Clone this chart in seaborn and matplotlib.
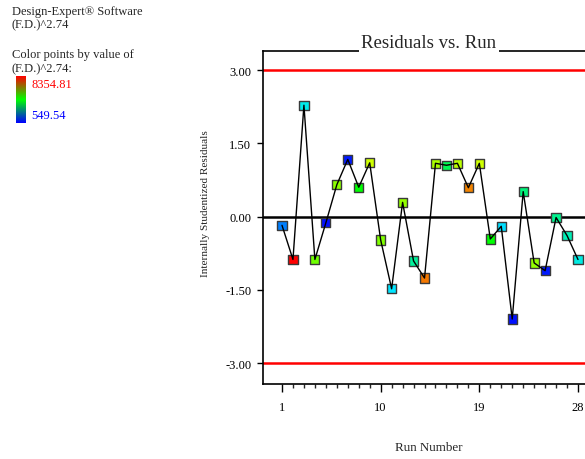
import numpy as np
import pandas as pd
import matplotlib
matplotlib.use("Agg")
import matplotlib.pyplot as plt
from matplotlib.colors import LinearSegmentedColormap, Normalize
import seaborn as sns

# Run order and internally studentized residuals
runs = list(range(1, 29))
residuals = [-0.18, -0.88, 2.28, -0.88, -0.13, 0.65, 1.17, 0.60, 1.10, -0.48,
             -1.48, 0.29, -0.91, -1.26, 1.09, 1.05, 1.09, 0.59, 1.09, -0.46,
             -0.20, -2.10, 0.51, -0.95, -1.11, -0.02, -0.39, -0.88]
# Response (F.D.)^2.74 used to colour each point
response = [1640, 8354.81, 2660, 5390, 700, 5620, 780, 4450, 6170, 5540,
            2500, 5700, 3280, 7420, 5860, 3830, 6010, 7340, 6170, 4450,
            2420, 700, 3510, 5700, 780, 3360, 3050, 2740]
resp_min, resp_max = 549.54, 8354.81
y_ticks = [-3.0, -1.5, 0.0, 1.5, 3.0]
x_ticks = [1, 10, 19, 28]
limit = 3.0

df = pd.DataFrame({"run": runs, "resid": residuals, "resp": response})

sns.set_theme(style="white")
plt.rcParams["font.family"] = ["Liberation Serif", "DejaVu Serif"]

point_cmap = LinearSegmentedColormap.from_list(
    "de_rainbow", ["#0000ff", "#00e8ff", "#00ff00", "#e8ff00", "#ff0000"])
bar_cmap = LinearSegmentedColormap.from_list(
    "de_bar", ["#0000ff", "#00ff00", "#ff0000"])

fig = plt.figure(figsize=(5.85, 4.6), dpi=100)
ax = fig.add_axes([263 / 585, 1 - 385 / 460, 334 / 585, 333 / 460])

# reference lines
ax.axhline(limit, color="#ff0000", lw=1.8, zorder=1)
ax.axhline(-limit, color="#ff0000", lw=1.8, zorder=1)
ax.axhline(0, color="black", lw=1.8, zorder=1)

sns.scatterplot(data=df, x="run", y="resid", hue="resp", palette=point_cmap,
                hue_norm=(resp_min, resp_max), marker="s", s=44,
                edgecolor="#3a3a3a", linewidth=1.0, legend=False, ax=ax,
                zorder=3)
sns.lineplot(data=df, x="run", y="resid", color="black", lw=1.0, ax=ax,
             zorder=4)

ax.set_xlim(-0.733, 29.733)
ax.set_ylim(-3.43, 3.39)
ax.set_xticks(x_ticks)
ax.set_xticks(runs, minor=True)
ax.set_yticks(y_ticks)
ax.set_yticklabels([f"{v:.2f}" for v in y_ticks])
ax.tick_params(axis="both", which="major", direction="out", colors="black",
               labelsize=9, width=1.0)
ax.tick_params(axis="x", which="major", length=6, pad=6, bottom=True)
ax.tick_params(axis="x", which="minor", length=3, width=1.0, bottom=True)
ax.tick_params(axis="y", which="major", length=4.5, pad=4, left=True)

for side in ["left", "bottom", "top"]:
    ax.spines[side].set_color("black")
    ax.spines[side].set_linewidth(1.2)
ax.spines["right"].set_visible(False)

ax.set_xlabel("Run Number", fontsize=9.4)
ax.set_ylabel("Internally Studentized Residuals", fontsize=8.1)
ax.xaxis.set_label_coords(0.497, -0.171)
ax.yaxis.set_label_coords(-0.160, 0.545)

ax.annotate("Residuals vs. Run", xy=(0.497, 1.0), xycoords="axes fraction",
            xytext=(0, 3), textcoords="offset points", ha="center",
            va="baseline", fontsize=13.5,
            bbox=dict(boxstyle="square,pad=0.15", fc="white", ec="none"))

# header text and colour key
fig.text(12 / 585, 1 - 15 / 460, "Design-Expert\u00ae Software", fontsize=9,
         va="baseline")
fig.text(12 / 585, 1 - 28 / 460, "(F.D.)^2.74", fontsize=9, va="baseline")
fig.text(12 / 585, 1 - 58 / 460, "Color points by value of", fontsize=9,
         va="baseline")
fig.text(12 / 585, 1 - 72 / 460, "(F.D.)^2.74:", fontsize=9, va="baseline")
cax = fig.add_axes([16 / 585, 1 - 124 / 460, 10 / 585, 47 / 460])
grad = np.linspace(resp_min, resp_max, 200).reshape(-1, 1)
cax.imshow(grad, aspect="auto", cmap=bar_cmap, origin="lower",
           norm=Normalize(resp_min, resp_max))
cax.set_axis_off()
fig.text(31 / 585, 1 - 88 / 460, f"{resp_max:.2f}", color="#ff0000",
         fontsize=9, va="baseline")
fig.text(31 / 585, 1 - 119 / 460, f"{resp_min:.2f}", color="#0000ff",
         fontsize=9, va="baseline")

fig.savefig("out.png", dpi=100)
